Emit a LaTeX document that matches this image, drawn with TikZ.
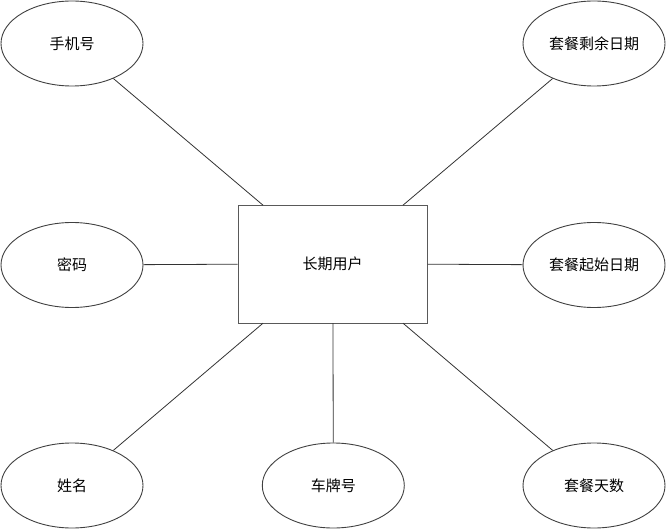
\documentclass[tikz,border=0pt]{standalone}
\usepackage{fontspec}
\newfontfamily\cjk{Noto Sans CJK SC}
\usetikzlibrary{shapes.geometric}
\begin{document}
\begin{tikzpicture}[x=1pt,y=-1pt,
  attr/.style={draw=black!75,line width=0.9pt,ellipse,minimum width=142pt,minimum height=85pt,inner sep=0pt,font=\cjk\fontsize{15}{18}\selectfont},
  entity/.style={draw=black!65,line width=1pt,rectangle,minimum width=189pt,minimum height=118pt,inner sep=0pt,font=\cjk\fontsize{15}{18}\selectfont},
  link/.style={draw=black!80,line width=0.8pt}]
\useasboundingbox (0,0) rectangle (666,529);
\node[entity] (e) at (332.7,264.2) {长期用户};
\node[attr] (a1) at (72,43.5) {手机号};
\node[attr] (a2) at (594,43.5) {套餐剩余日期};
\node[attr] (a3) at (72,265) {密码};
\node[attr] (a4) at (594,265) {套餐起始日期};
\node[attr] (a5) at (72,485.5) {姓名};
\node[attr] (a6) at (333.3,485.5) {车牌号};
\node[attr] (a7) at (594,485.5) {套餐天数};
\coordinate (p1) at (263,205.2);
\coordinate (p2) at (403,205.2);
\coordinate (p5) at (263,323.2);
\coordinate (p6) at (333,323.2);
\coordinate (p7) at (403,323.2);
\draw[link] (p1) -- (a1);
\draw[link] (p2) -- (a2);
\draw[link] (e.west) -- (a3);
\draw[link] (e.east) -- (a4);
\draw[link] (p5) -- (a5);
\draw[link] (p6) -- (a6);
\draw[link] (p7) -- (a7);
\end{tikzpicture}
\end{document}
